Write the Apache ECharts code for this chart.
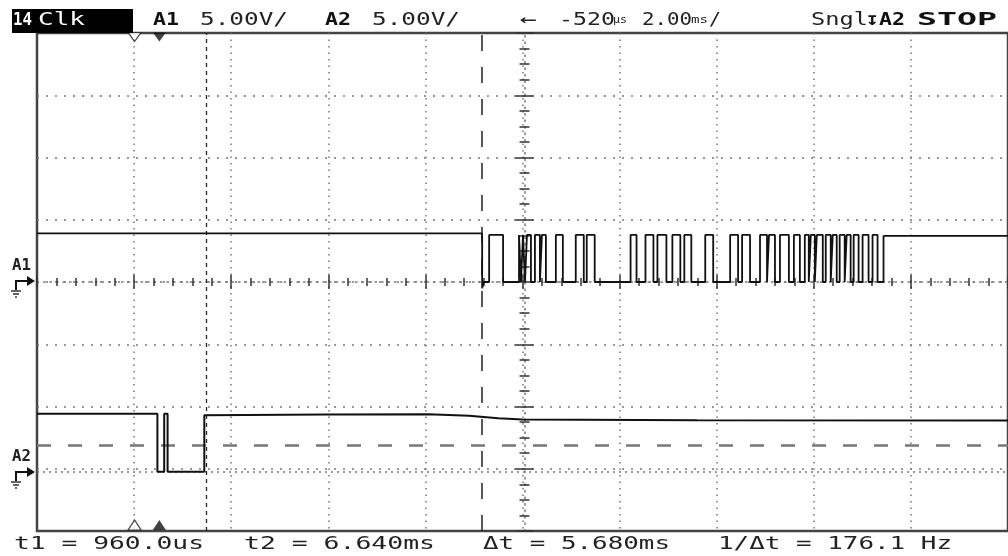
<!DOCTYPE html>
<html><head><meta charset="utf-8">
<script src="https://cdn.jsdelivr.net/npm/echarts@6/dist/echarts.min.js"></script>
<style>html,body{margin:0;padding:0;background:#fff}#c{width:1008px;height:556px}</style>
</head><body><div id="c"></div>
<script>
// ---- data (time in ms measured from the left edge of the screen, voltage in V) ----
const screenStart = -2.527;               // real time at the left screen edge (ms)
const cursorTimes = [0.96, 6.64];         // t1, t2 cursors (ms, real time)
const markerTimes = [2.01, 2.52];         // hollow / filled position markers (screen ms)
const a1PreBurst = [[0, 3.9], [9.169, 3.9]];
const a1LowLevel = 0;
const a1HighLevel = 3.78;
const a1Pulses = [
  [9.313, 9.600], [9.928, 9.969], [10.010, 10.051], [10.092, 10.174],
  [10.256, 10.359], [10.400, 10.482], [10.687, 10.831], [11.097, 11.262],
  [11.323, 11.487], [12.226, 12.349], [12.533, 12.697], [12.779, 12.964],
  [13.087, 13.251], [13.333, 13.477], [13.764, 13.928], [14.277, 14.441],
  [14.523, 14.687], [14.892, 15.036], [15.077, 15.200], [15.303, 15.487],
  [15.590, 15.713], [15.815, 15.897], [15.938, 16.021], [16.062, 16.185],
  [16.246, 16.349], [16.390, 16.472], [16.533, 16.636], [16.677, 16.759],
  [16.821, 16.923], [17.005, 17.128], [17.210, 17.313]
];
const a1After = [[17.436, 3.7], [20, 3.7]];
const a2Points = [
  [0, 4.66], [2.48, 4.66], [2.48, 0], [2.62, 0], [2.62, 4.66], [2.69, 4.66],
  [2.69, 0], [3.446, 0], [3.446, 4.55], [6.0, 4.6], [8.06, 4.62], [8.9, 4.5],
  [9.5, 4.3], [10.0, 4.2], [13.6, 4.14], [20, 4.12]
];
const a2GroundOffset = -15.25;            // A2 ground position expressed on the A1 scale (V)
const a2TriggerLevel = 2.17;              // V on channel A2
const headerItems = [
  ['14', 13, 19, true, '#fff', 18], ['Clk', 38, 47, false, '#fff', 18],
  ['A1', 153, 26, true, '#111', 18], ['5.00V/', 200, 88, false, '#222', 18],
  ['A2', 325, 26, true, '#111', 18], ['5.00V/', 372, 88, false, '#222', 18],
  ['←', 520, 17, false, '#222', 18], ['-520', 559, 56, false, '#222', 18],
  ['µs', 613, 14, false, '#222', 11], ['2.00', 642, 50, false, '#222', 18],
  ['ms', 691, 17, false, '#222', 11], ['/', 709, 12, false, '#222', 18],
  ['Sngl', 811, 57, false, '#222', 18], ['↧', 866, 13, true, '#111', 18],
  ['A2', 879, 26, true, '#111', 18], ['STOP', 917, 80, true, '#111', 18]
];
const footerItems = [
  ['t1 = 960.0us', 14, 190], ['t2 = 6.640ms', 244, 191],
  ['Δt = 5.680ms', 483, 187], ['1/Δt = 176.1 Hz', 718, 234]
];

// ---- build series data ----
const a1Data = a1PreBurst.slice();
a1Data.push([a1PreBurst[1][0], -0.5], [a1PreBurst[1][0] + 0.03, a1LowLevel]);
for (const [s, e] of a1Pulses) {
  a1Data.push([s, a1LowLevel], [s, a1HighLevel], [e, a1HighLevel], [e, a1LowLevel]);
}
a1Data.push([a1After[0][0], a1LowLevel], ...a1After);
const a2Data = a2Points.map(p => [p[0], p[1] + a2GroundOffset]);
const cursorScreen = cursorTimes.map(t => t - screenStart);

const MONO = '"DejaVu Sans Mono"';
function txt(text, x, y, w, bold, fill, size) {
  const adv = 0.6021 * size * text.length;
  return {
    type: 'text', x: x, y: y, scaleX: w / adv, z: 100,
    style: {
      text: text, fill: fill,
      font: (bold ? 'bold ' : '') + size + 'px ' + MONO,
      align: 'left', textAlign: 'left', verticalAlign: 'middle', textVerticalAlign: 'middle'
    }
  };
}
const graphics = [
  { type: 'rect', shape: { x: 12, y: 9, width: 121, height: 24 }, style: { fill: '#000' }, z: 99 }
];
headerItems.forEach(h => graphics.push(txt(h[0], h[1], 20.5, h[2], h[3], h[4], h[5])));
footerItems.forEach(f => graphics.push(txt(f[0], f[1], 544.5, f[2], false, '#222', 18)));
// channel ground markers
function chMarker(label, yGnd) {
  const g = [];
  g.push(txt(label, 12, yGnd - 15, 19, true, '#222', 15));
  g.push({ type: 'polyline', shape: { points: [[16, yGnd + 9], [16, yGnd], [29, yGnd]] }, style: { stroke: '#111', lineWidth: 2, fill: null }, z: 100 });
  g.push({ type: 'polygon', shape: { points: [[27, yGnd - 5], [35, yGnd], [27, yGnd + 5]] }, style: { fill: '#111' }, z: 100 });
  g.push({ type: 'line', shape: { x1: 11, y1: yGnd + 10, x2: 21, y2: yGnd + 10 }, style: { stroke: '#333', lineWidth: 1.5 }, z: 100 });
  g.push({ type: 'line', shape: { x1: 13, y1: yGnd + 13, x2: 19, y2: yGnd + 13 }, style: { stroke: '#333', lineWidth: 1.5 }, z: 100 });
  g.push({ type: 'line', shape: { x1: 15, y1: yGnd + 16, x2: 17, y2: yGnd + 16 }, style: { stroke: '#333', lineWidth: 1.5 }, z: 100 });
  return g;
}
graphics.push(...chMarker('A1', 281), ...chMarker('A2', 472));

const hidden = { axisLabel: { show: false }, splitLine: { show: false } };
const option = {
  animation: false,
  backgroundColor: '#fff',
  grid: { left: 37, top: 33, width: 975, height: 498, show: true, borderColor: '#444', borderWidth: 2.5, containLabel: false },
  xAxis: [
    { type: 'value', min: 0, max: 20, interval: 2,
      axisLine: { show: false, onZero: false }, axisTick: { show: false }, axisLabel: { show: false },
      splitLine: { show: true, showMinLine: false, showMaxLine: false, lineStyle: { color: '#777', width: 1.5, type: [1.5, 5] } } },
    Object.assign({ type: 'value', min: 0, max: 20, interval: 2, position: 'bottom', offset: -249,
      axisLine: { show: true, onZero: false, lineStyle: { color: '#777', width: 1.5, type: [1.5, 5] } },
      axisTick: { show: true, inside: true, length: 7, lineStyle: { color: '#333', width: 1.5 } },
      minorTick: { show: true, splitNumber: 5, length: 4, lineStyle: { color: '#333', width: 1.5 } } }, hidden),
    Object.assign({ type: 'value', min: 0, max: 20, interval: 2, position: 'bottom', offset: -249,
      axisLine: { show: false, onZero: false },
      axisTick: { show: true, inside: false, length: 7, lineStyle: { color: '#333', width: 1.5 } },
      minorTick: { show: true, splitNumber: 5, length: 4, lineStyle: { color: '#333', width: 1.5 } } }, hidden)
  ],
  yAxis: [
    { type: 'value', min: -20, max: 20, interval: 5,
      axisLine: { show: false, onZero: false }, axisTick: { show: false }, axisLabel: { show: false },
      splitLine: { show: true, showMinLine: false, showMaxLine: false, lineStyle: { color: '#777', width: 1.5, type: [2, 7] } } },
    Object.assign({ type: 'value', min: -20, max: 20, interval: 5, position: 'left', offset: -487.5,
      axisLine: { show: true, onZero: false, lineStyle: { color: '#777', width: 1.5, type: [1.5, 5] } },
      axisTick: { show: true, inside: true, length: 9, lineStyle: { color: '#333', width: 1.5 } },
      minorTick: { show: true, splitNumber: 4, length: 5, lineStyle: { color: '#333', width: 1.5 } } }, hidden),
    Object.assign({ type: 'value', min: -20, max: 20, interval: 5, position: 'left', offset: -487.5,
      axisLine: { show: false, onZero: false },
      axisTick: { show: true, inside: false, length: 9, lineStyle: { color: '#333', width: 1.5 } },
      minorTick: { show: true, splitNumber: 4, length: 5, lineStyle: { color: '#333', width: 1.5 } } }, hidden)
  ],
  series: [
    { name: 'A2', type: 'line', data: a2Data, showSymbol: false, z: 5,
      lineStyle: { color: '#111', width: 2 },
      markLine: { silent: true, symbol: ['none', 'none'], label: { show: false }, animation: false,
        data: [
          { yAxis: a2GroundOffset, lineStyle: { color: '#777', width: 1.5, type: [2, 4] } },
          { yAxis: a2GroundOffset + a2TriggerLevel, lineStyle: { color: '#777', width: 2.5, type: [14, 17] } }
        ] } },
    { name: 'A1', type: 'line', data: a1Data, showSymbol: false, z: 6,
      lineStyle: { color: '#111', width: 1.8 },
      markLine: { silent: true, symbol: ['none', 'none'], label: { show: false }, animation: false,
        data: [
          { xAxis: cursorScreen[0], lineStyle: { color: '#222', width: 1.3, type: [4, 4] } },
          { xAxis: cursorScreen[1], lineStyle: { color: '#222', width: 1.5, type: [16, 16] } }
        ] } },
    { name: 'markersTop', type: 'scatter', symbol: 'triangle', symbolRotate: 180, symbolSize: [13, 9], symbolOffset: [0, 4], clip: false, z: 8,
      data: [
        { value: [markerTimes[0], 20], itemStyle: { color: '#fff', borderColor: '#222', borderWidth: 1.2 } },
        { value: [markerTimes[1], 20], itemStyle: { color: '#111' } }
      ] },
    { name: 'markersBottom', type: 'scatter', symbol: 'triangle', symbolSize: [13, 10], symbolOffset: [0, -6], clip: false, z: 8,
      data: [
        { value: [markerTimes[0], -20], itemStyle: { color: '#fff', borderColor: '#222', borderWidth: 1.2 } },
        { value: [markerTimes[1], -20], itemStyle: { color: '#111' } }
      ] }
  ],
  graphic: graphics
};
const chart = echarts.init(document.getElementById('c'), null, { renderer: 'canvas' });
chart.setOption(option);
</script>
</body></html>
